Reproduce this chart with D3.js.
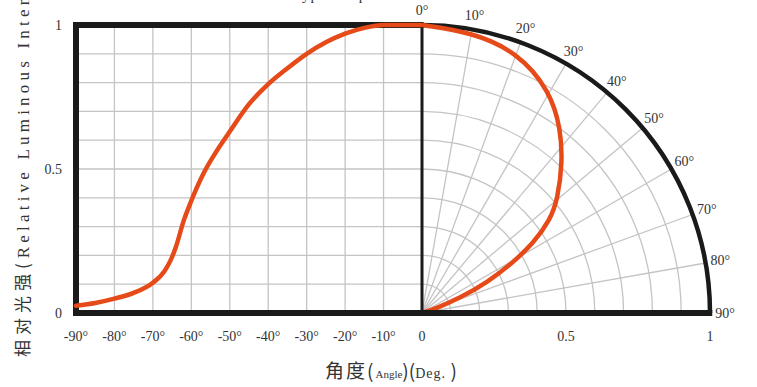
<!DOCTYPE html>
<html>
<head>
<meta charset="utf-8">
<script src="https://cdn.jsdelivr.net/npm/d3@7"></script>
<style>
  body { margin: 0; background: #fff; }
  svg text { font-family: "Liberation Serif", "Times New Roman", "DejaVu Serif", serif; fill: #333; }
</style>
</head>
<body>
<svg width="757" height="387"></svg>
<script>
// left half: intensity vs angle (-90..0)
var leftAngles = [-90,-85,-80,-75,-70,-67,-65.5,-64,-62,-60,-57,-54,-50,-45,-40,-35,-30,-25,-20,-15,-10,-5,0]
var leftValues = [0.025,0.035,0.05,0.07,0.105,0.145,0.18,0.23,0.32,0.39,0.48,0.55,0.63,0.725,0.795,0.85,0.9,0.94,0.97,0.99,1.0,1.0,1.0]
// right half: polar plot (angle from axis, deg)
var polarAngles = [0,10,20,30,37,43,50,54,58,61,65,68.5,72,75]
var polarValues = [1,0.99,0.965,0.89,0.80,0.715,0.615,0.55,0.455,0.36,0.25,0.14,0.05,0]

var xTicks = [-90,-80,-70,-60,-50,-40,-30,-20,-10]
var yTicks = [0,0.5,1]
var rTicks = [0,0.5,1]
var polarTicks = [0,10,20,30,40,50,60,70,80,90]

var svg = d3.select("svg")
var cx = 422, cy = 313, R = 288
var xs = d3.scaleLinear().domain([-90,0]).range([76,cx])
var ys = d3.scaleLinear().domain([0,1]).range([cy,cy-R])
var rs = d3.scaleLinear().domain([0,1]).range([0,R])
var rad = d3.scaleLinear().domain([0,90]).range([0,Math.PI/2])
var grid = "#c4c4c4"
var orange = "#e64a19"
var serif = "'Liberation Serif', 'Times New Roman', serif"
var cjk = "'Noto Sans CJK SC', sans-serif"

// cartesian grid
svg.append("g").selectAll("line").data(d3.range(-80,0,10)).enter().append("line")
  .attr("x1", d => xs(d)).attr("x2", d => xs(d))
  .attr("y1", ys(0)).attr("y2", ys(1))
  .attr("stroke", grid).attr("stroke-width", 1.3)
svg.append("g").selectAll("line").data(d3.range(1,10).map(d => d/10)).enter().append("line")
  .attr("x1", xs(-90)).attr("x2", xs(0))
  .attr("y1", d => ys(d)).attr("y2", d => ys(d))
  .attr("stroke", grid).attr("stroke-width", 1.3)

// polar grid
var pg = svg.append("g").attr("transform","translate("+cx+","+cy+")")
pg.selectAll("path.arc").data(d3.range(1,10).map(d => d/10)).enter().append("path")
  .attr("d", d => d3.arc()({innerRadius: rs(d), outerRadius: rs(d), startAngle: 0, endAngle: Math.PI/2}))
  .attr("fill","none").attr("stroke", grid).attr("stroke-width", 1.3)
pg.selectAll("line").data(d3.range(10,90,10)).enter().append("line")
  .attr("x1",0).attr("y1",0)
  .attr("x2", d => R*Math.sin(rad(d))).attr("y2", d => -R*Math.cos(rad(d)))
  .attr("stroke", grid).attr("stroke-width", 1.3)

// frames
svg.append("line").attr("x1",xs(-90)).attr("x2",xs(0)).attr("y1",ys(1)).attr("y2",ys(1)).attr("stroke","#1a1a1a").attr("stroke-width",6)
svg.append("line").attr("x1",xs(-90)-3).attr("x2",cx+R).attr("y1",ys(0)).attr("y2",ys(0)).attr("stroke","#1a1a1a").attr("stroke-width",6)
svg.append("line").attr("x1",xs(-90)).attr("x2",xs(-90)).attr("y1",ys(1)-3).attr("y2",ys(0)).attr("stroke","#1a1a1a").attr("stroke-width",6)
svg.append("line").attr("x1",xs(0)).attr("x2",xs(0)).attr("y1",ys(1)-3).attr("y2",ys(0)).attr("stroke","#1a1a1a").attr("stroke-width",3)
pg.append("path")
  .attr("d", d3.arc()({innerRadius: R, outerRadius: R, startAngle: 0, endAngle: Math.PI/2}))
  .attr("fill","none").attr("stroke","#1a1a1a").attr("stroke-width",4.5)
svg.append("line").attr("x1",cx+R).attr("x2",cx+R).attr("y1",cy-3).attr("y2",cy+3).attr("stroke","#1a1a1a").attr("stroke-width",4.5)

// curves
var leftData = leftAngles.map((a,i) => [a, leftValues[i]])
svg.append("path").datum(leftData)
  .attr("d", d3.line().x(d => xs(d[0])).y(d => ys(d[1])).curve(d3.curveMonotoneX))
  .attr("fill","none").attr("stroke",orange).attr("stroke-width",4.5).attr("stroke-linecap","round")

var polarData = polarAngles.map((a,i) => [a, polarValues[i]])
pg.append("path").datum(polarData)
  .attr("d", d3.lineRadial().angle(d => rad(d[0])).radius(d => rs(d[1])).curve(d3.curveBasis))
  .attr("fill","none").attr("stroke",orange).attr("stroke-width",4.5).attr("stroke-linecap","round")

// tick labels
svg.append("g").selectAll("text").data(xTicks).enter().append("text")
  .attr("x", d => xs(d)).attr("y", 341).attr("text-anchor","middle")
  .attr("font-family", serif).attr("font-size", 14).text(d => d + "°")
svg.append("g").selectAll("text").data(rTicks).enter().append("text")
  .attr("x", d => cx + rs(d)).attr("y", 341).attr("text-anchor","middle")
  .attr("font-family", serif).attr("font-size", 14).text(d => d)
svg.append("g").selectAll("text").data(yTicks).enter().append("text")
  .attr("x", 62).attr("y", d => ys(d)).attr("dy","0.35em").attr("text-anchor","end")
  .attr("font-family", serif).attr("font-size", 14).text(d => d)
pg.append("g").selectAll("text").data(polarTicks).enter().append("text")
  .attr("x", d => 303*Math.sin(rad(d))).attr("y", d => -303*Math.cos(rad(d)))
  .attr("dy","0.35em").attr("text-anchor","middle")
  .attr("font-family", serif).attr("font-size", 14).text(d => d + "°")

// titles (top one is cut by the page edge as in the source)
svg.append("text").attr("x", 293).attr("y", 0).attr("font-family", serif).attr("font-size", 15).attr("letter-spacing", 1)
  .text("Typical Spatial Distribution")

var yt = svg.append("text").attr("transform","translate(29,357) rotate(-90)").attr("font-size",17)
yt.append("tspan").attr("font-family",cjk).attr("letter-spacing",5).text("相对光强(")
yt.append("tspan").attr("font-family",serif).attr("letter-spacing",4.2).text("Relative Luminous Intensity)")

var xt = svg.append("text").attr("x", 325).attr("y", 378)
xt.append("tspan").attr("font-family",cjk).attr("font-size",19).attr("letter-spacing",2).text("角度(")
xt.append("tspan").attr("font-family",serif).attr("font-size",11).text("Angle")
xt.append("tspan").attr("font-family",cjk).attr("font-size",19).text(")(")
xt.append("tspan").attr("font-family",serif).attr("font-size",14).attr("letter-spacing",1).text("Deg. ")
xt.append("tspan").attr("font-family",cjk).attr("font-size",19).text(")")
</script>
</body>
</html>
